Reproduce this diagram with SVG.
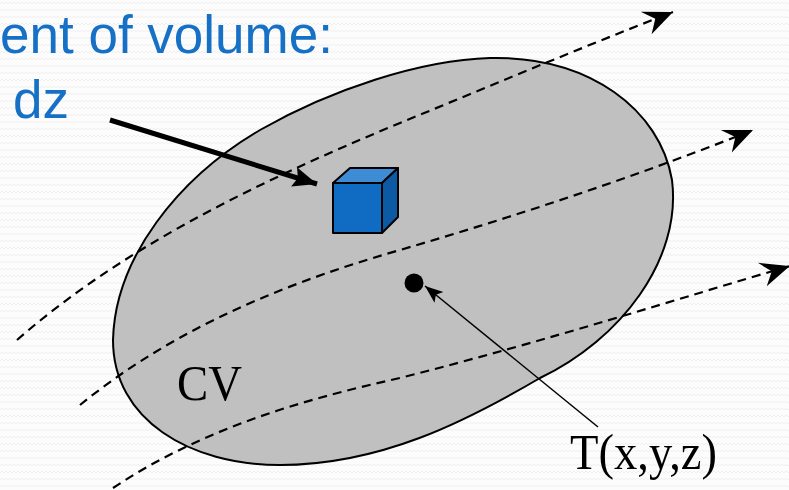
<svg xmlns="http://www.w3.org/2000/svg" width="789" height="490" viewBox="0 0 789 490">
<defs>
<style>
.bg{fill:#fcfcfc}
.blob{fill:#c0c0c0;stroke:#000;stroke-width:2}
.flow{fill:none;stroke:#000;stroke-width:2.2;stroke-dasharray:9 6}
.label{font-family:"Liberation Sans",Arial,sans-serif;font-size:53px;fill:#1570c6}
.serif{font-family:"Liberation Serif","Times New Roman",serif;font-size:50px;fill:#000}
</style>
<pattern id="wave" width="8" height="7" patternUnits="userSpaceOnUse">
<path d="M0,4 L2,2 L4,4 L6,2 L8,4" fill="none" stroke="#eeeeee" stroke-width="0.8"/>
</pattern>
<marker id="stealth" viewBox="-30 -14 32 28" refX="0" refY="0" markerWidth="32" markerHeight="28" markerUnits="userSpaceOnUse" orient="auto">
<path d="M0,0 L-30,-12 L-19,0 L-28,13 Z" fill="#000"/>
</marker>
<marker id="bold" viewBox="-24 -11 26 22" refX="0" refY="0" markerWidth="26" markerHeight="22" markerUnits="userSpaceOnUse" orient="auto">
<path d="M0,0 L-24,-10 L-20,0 L-24,10 Z" fill="#000"/>
</marker>
<marker id="thin" viewBox="-18 -8 20 16" refX="0" refY="0" markerWidth="20" markerHeight="16" markerUnits="userSpaceOnUse" orient="auto">
<path d="M0,0 L-18,-7 L-14,0 L-18,7 Z" fill="#000"/>
</marker>
</defs>
<rect class="bg" x="0" y="0" width="789" height="490"/>
<rect x="0" y="0" width="789" height="490" fill="url(#wave)"/>

<g id="cv">
<path class="blob" d="M113,340 C115,258 178,178 260,130 C330,90 420,60 490,58 C590,56 660,110 672,180 C682,260 620,340 540,378 C465,422 380,465 280,465 C190,465 113,420 113,340 Z"/>
<text class="serif" x="177" y="400" textLength="65" lengthAdjust="spacingAndGlyphs">CV</text>
</g>

<g id="connectors">
<path class="flow" d="M17,340 C120,250 250,185 400,123 C490,86 580,48 673,12" marker-end="url(#stealth)"/>
<path class="flow" d="M80,405 C160,340 260,290 400,250 C520,215 640,175 753,130" marker-end="url(#stealth)"/>
<path class="flow" d="M113,488 C200,430 300,400 400,378 C550,340 680,298 790,266" marker-end="url(#stealth)"/>
<line x1="110" y1="120" x2="317" y2="184" stroke="#000" stroke-width="5" marker-end="url(#bold)"/>
<line x1="598" y1="427" x2="425" y2="286" stroke="#000" stroke-width="1.5" marker-end="url(#thin)"/>
</g>

<g id="cube" stroke="#000" stroke-width="2" stroke-linejoin="round">
<polygon points="333,183 350,168 398,168 382,183" fill="#3f8cd6"/>
<polygon points="382,183 398,168 398,217 382,233" fill="#0c5aa3"/>
<rect x="333" y="183" width="49" height="50" fill="#0f6cc2"/>
</g>

<g id="point">
<circle cx="414" cy="283" r="9.5" fill="#000"/>
<text class="serif" x="570" y="469" textLength="147" lengthAdjust="spacingAndGlyphs">T(x,y,z)</text>
</g>

<g id="caption">
<text class="label" x="0" y="53">ent of volume:</text>
<text class="label" x="13" y="118">dz</text>
</g>
</svg>
